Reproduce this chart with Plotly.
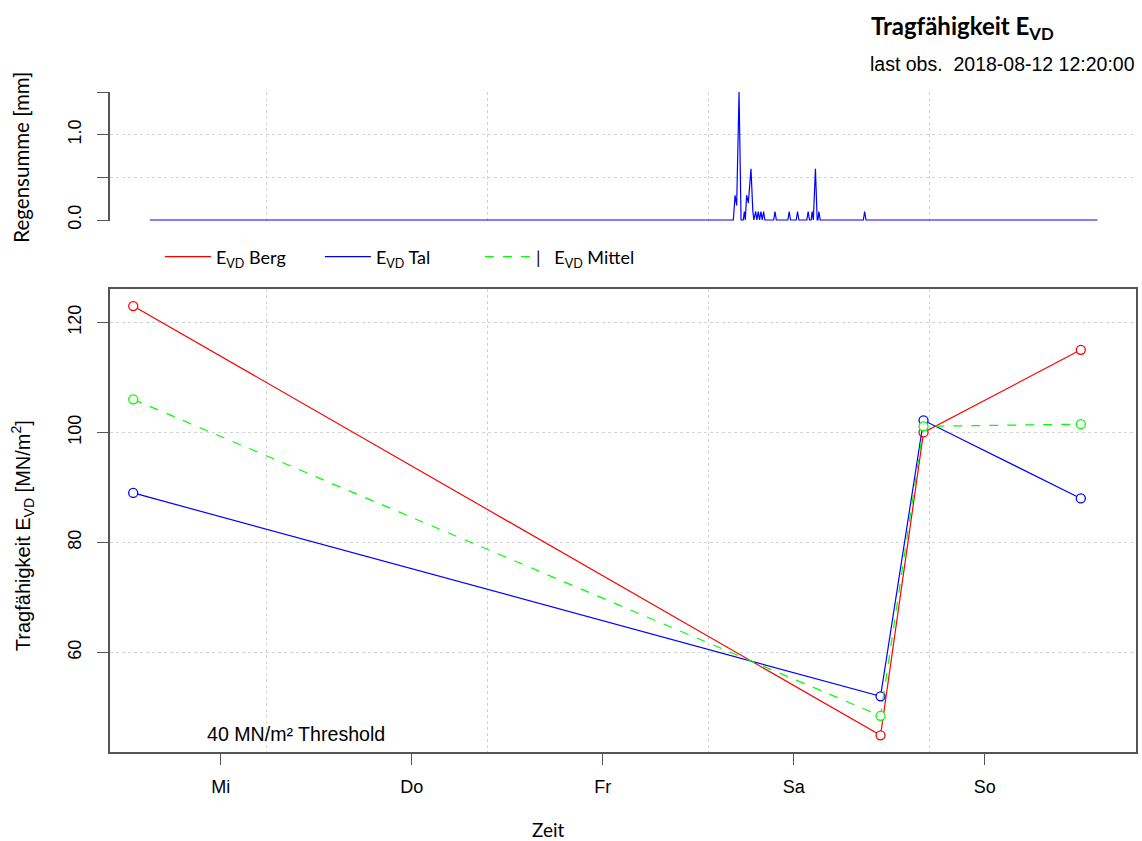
import plotly.graph_objects as go

# ---------------- data ----------------
obs_times = ["2018-08-07 13:00", "2018-08-11 10:55", "2018-08-11 16:19", "2018-08-12 12:05"]
evd_berg = [122.96, 44.96, 100.0, 115.0]
evd_tal = [89.0, 52.05, 102.2, 88.0]
evd_mittel = [106.0, 48.5, 101.1, 101.5]

rain_times = [
    "2018-08-07 15:05", "2018-08-10 16:25", "2018-08-10 16:38", "2018-08-10 16:50",
    "2018-08-10 17:08", "2018-08-10 17:23", "2018-08-10 17:40", "2018-08-10 17:48",
    "2018-08-10 17:55", "2018-08-10 18:05", "2018-08-10 18:18", "2018-08-10 18:38",
    "2018-08-10 18:52", "2018-08-10 19:00", "2018-08-10 19:13", "2018-08-10 19:23",
    "2018-08-10 19:33", "2018-08-10 19:43", "2018-08-10 19:53", "2018-08-10 20:03",
    "2018-08-10 20:13", "2018-08-10 20:23", "2018-08-10 21:29", "2018-08-10 21:39",
    "2018-08-10 21:49", "2018-08-10 23:16", "2018-08-10 23:26", "2018-08-10 23:36",
    "2018-08-11 00:19", "2018-08-11 00:29", "2018-08-11 00:39", "2018-08-11 01:39",
    "2018-08-11 01:49", "2018-08-11 01:59", "2018-08-11 02:12", "2018-08-11 02:19",
    "2018-08-11 02:28", "2018-08-11 02:44", "2018-08-11 02:57", "2018-08-11 03:03",
    "2018-08-11 03:10", "2018-08-11 03:20", "2018-08-11 08:45", "2018-08-11 08:55",
    "2018-08-11 09:05", "2018-08-12 14:10",
]
rain_mm = [
    0.0, 0.0, 0.29, 0.17,
    1.5, 0.0, 0.0, 0.1,
    0.0, 0.29, 0.2, 0.6,
    0.1, 0.0, 0.1, 0.0,
    0.1, 0.0, 0.1, 0.0,
    0.1, 0.0, 0.0, 0.1,
    0.0, 0.0, 0.1, 0.0,
    0.0, 0.1, 0.0, 0.0,
    0.1, 0.0, 0.0, 0.1,
    0.0, 0.6, 0.0, 0.0,
    0.1, 0.0, 0.0, 0.1,
    0.0, 0.0,
]

day_ticks = ["2018-08-08", "2018-08-09", "2018-08-10", "2018-08-11", "2018-08-12"]
day_labels = ["Mi", "Do", "Fr", "Sa", "So"]
x_range = ["2018-08-07 10:05", "2018-08-12 19:01"]

# ---------------- layout helpers ----------------
W, H = 1142, 841
ML, MR, MT, MB = 110, 4, 92, 89
PW, PH = W - ML - MR, H - MT - MB


def px(x):
    return (x - ML) / PW


def py(y):
    return (H - MB - y) / PH


RED, BLUE, GREEN = "#FF0000", "#0000FF", "#00FF00"
AXC = "#555555"
GRIDC = "#D3D3D3"
ARIAL = "Liberation Sans, Arial, sans-serif"
CAL = "Lato, sans-serif"

fig = go.Figure()

# rain (top panel)
fig.add_trace(go.Scatter(x=rain_times, y=rain_mm, mode="lines", xaxis="x2", yaxis="y2",
                         line=dict(color=BLUE, width=1.2), showlegend=False, hoverinfo="skip"))

marker_common = dict(symbol="circle", size=9, color="white")
for name, vals, col, dash in [("Berg", evd_berg, RED, "solid"),
                              ("Tal", evd_tal, BLUE, "solid"),
                              ("Mittel", evd_mittel, GREEN, "dash")]:
    fig.add_trace(go.Scatter(x=obs_times, y=vals, mode="lines+markers", xaxis="x", yaxis="y",
                             line=dict(color=col, width=1.2, dash=dash),
                             marker=dict(**marker_common, line=dict(color=col, width=1.3)),
                             showlegend=False))

# legend entries (lines only, like the reference)
legend_names = ["E<sub>VD</sub> Berg", "E<sub>VD</sub> Tal",
                "|\u00a0\u00a0\u00a0E<sub>VD</sub> Mittel"]
for nm, col, dash in zip(legend_names, [RED, BLUE, GREEN], ["solid", "solid", "dash"]):
    fig.add_trace(go.Scatter(x=[None], y=[None], mode="lines", name=nm, xaxis="x", yaxis="y",
                             line=dict(color=col, width=1.2, dash=dash)))

minor_grid = dict(tick0="2018-08-08 05:44", dtick=100044000, showgrid=True,
                  gridcolor=GRIDC, griddash="dot", gridwidth=1, ticks="")

bottom_dom_top = py(289.3)
top_dom_bot = py(221)

fig.update_layout(
    width=W, height=H,
    margin=dict(l=ML, r=MR, t=MT, b=MB),
    paper_bgcolor="white", plot_bgcolor="white",
    font=dict(family=ARIAL, size=18, color="black"),
    xaxis=dict(type="date", range=x_range, domain=[0, 1], anchor="y",
               tickvals=day_ticks, ticktext=day_labels, ticks="outside", ticklen=11,
               tickcolor=AXC, tickwidth=1.3, ticklabelstandoff=7,
               showline=True, mirror=True, linecolor=AXC, linewidth=1.5,
               showgrid=False, zeroline=False, minor=minor_grid,
               tickfont=dict(family=ARIAL, size=18)),
    yaxis=dict(range=[41.93, 126.0], domain=[0, bottom_dom_top], anchor="x",
               tickvals=[60, 80, 100, 120], tickangle=-90, ticks="outside", ticklen=11,
               tickcolor=AXC, tickwidth=1.3, ticklabelstandoff=9,
               showline=True, mirror=True, linecolor=AXC, linewidth=1.5,
               showgrid=True, gridcolor=GRIDC, griddash="dot", zeroline=False,
               tickfont=dict(family=ARIAL, size=18)),
    xaxis2=dict(type="date", matches="x", anchor="y2", domain=[0, 1],
                showticklabels=False, ticks="", showline=False, showgrid=False,
                zeroline=False, minor=minor_grid),
    yaxis2=dict(range=[-0.0117, 1.5], domain=[top_dom_bot, 1], anchor="x2",
                tickvals=[0, 0.5, 1.0, 1.5], ticktext=["0.0", "", "1.0", ""],
                tickangle=-90, ticks="outside", ticklen=11, tickcolor=AXC, tickwidth=1.3,
                ticklabelstandoff=9, showline=True, linecolor=AXC, linewidth=1.5,
                showgrid=True, gridcolor=GRIDC, griddash="dot", zeroline=False,
                tickfont=dict(family=ARIAL, size=18)),
    legend=dict(orientation="h", x=px(160), xanchor="left", y=py(257), yanchor="middle",
                itemwidth=46, entrywidthmode="pixels", entrywidth=99,
                font=dict(family=CAL, size=18), bgcolor="rgba(0,0,0,0)",
                borderwidth=0, tracegroupgap=0),
    showlegend=True,
)

annotations = [
    dict(text="<b>Tragfähigkeit E<sub>VD</sub></b>", x=px(870), y=py(27), xanchor="left",
         yanchor="middle", font=dict(family=CAL, size=24)),
    dict(text="last obs.\u00a0 2018-08-12 12:20:00", x=px(1139), y=py(64), xanchor="right",
         yanchor="middle", font=dict(family=ARIAL, size=19.5)),
    dict(text="Zeit", x=px(549.5), y=py(829), xanchor="center", yanchor="middle",
         font=dict(family=CAL, size=19)),
    dict(text="Regensumme [mm]", x=px(20), y=py(157.5), textangle=-90, xanchor="center",
         yanchor="middle", font=dict(family=CAL, size=20.5)),
    dict(text="Tragfähigkeit E<sub>VD</sub> [MN/m<sup>2</sup>]", x=px(22), y=py(536),
         textangle=-90, xanchor="center", yanchor="middle", font=dict(family=ARIAL, size=20)),
    dict(text="40 MN/m² Threshold", x=px(205), y=py(734), xanchor="left", yanchor="middle",
         font=dict(family=ARIAL, size=19.6)),
]
for a in annotations:
    a.update(xref="paper", yref="paper", showarrow=False)
fig.update_layout(annotations=annotations)

fig.write_html("out.html")
